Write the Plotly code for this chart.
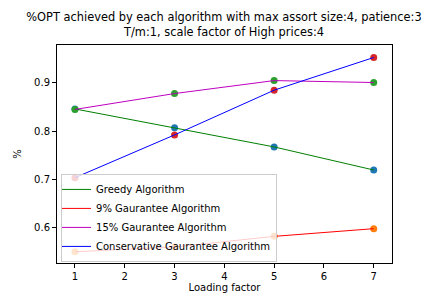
import plotly.graph_objects as go

loading_factor = [1, 3, 5, 7]
greedy = [0.846, 0.807, 0.767, 0.719]
guarantee_9 = [0.549, 0.559, 0.581, 0.597]
guarantee_15 = [0.845, 0.878, 0.905, 0.901]
conservative = [0.703, 0.792, 0.885, 0.953]

series_names = ["Greedy Algorithm", "9% Gaurantee Algorithm",
                "15% Gaurantee Algorithm", "Conservative Gaurantee Algorithm"]
series_values = [greedy, guarantee_9, guarantee_15, conservative]
line_colors = ["#008000", "#ff0000", "#bf00bf", "#0000ff"]
marker_colors = ["#1f77b4", "#ff7f0e", "#2ca02c", "#d62728"]

fig = go.Figure()
for vals, mc in zip(series_values, marker_colors):
    fig.add_trace(go.Scatter(x=loading_factor, y=vals, mode="markers",
                             marker=dict(color=mc, size=7, line=dict(width=0)),
                             showlegend=False, hoverinfo="skip"))
for name, vals, lc in zip(series_names, series_values, line_colors):
    fig.add_trace(go.Scatter(x=loading_factor, y=vals, mode="lines", name=name,
                             line=dict(color=lc, width=1)))

font = "DejaVu Sans"
axis_common = dict(showline=True, mirror=True, linecolor="black", linewidth=1,
                   ticks="outside", ticklen=4, tickwidth=1, tickcolor="black",
                   showgrid=False, zeroline=False, automargin=False,
                   tickfont=dict(family=font, size=10, color="black"))
fig.update_layout(
    width=432, height=293,
    margin=dict(l=49, r=48, t=37, b=38),
    paper_bgcolor="white", plot_bgcolor="white",
    title=dict(text="%OPT achieved by each algorithm with max assort size:4, patience:3<br>T/m:1, scale factor of High prices:4",
               x=0.5, xanchor="center", yref="container", y=0.955, yanchor="middle",
               font=dict(family=font, size=11.4, color="black")),
    xaxis=dict(range=[0.639, 7.367], tickvals=[1, 2, 3, 4, 5, 6, 7],
               title=dict(text="Loading factor", standoff=1,
                          font=dict(family=font, size=10, color="black")),
               **axis_common),
    yaxis=dict(range=[0.5256, 0.979], tickvals=[0.6, 0.7, 0.8, 0.9],
               ticktext=["0.6", "0.7", "0.8", "0.9"],
               title=dict(text="%", standoff=10,
                          font=dict(family=font, size=10, color="black")),
               **axis_common),
    legend=dict(x=0.012, y=0.005, xanchor="left", yanchor="bottom",
                bgcolor="rgba(255,255,255,0.8)", bordercolor="#cccccc", borderwidth=1,
                font=dict(family=font, size=10, color="black"),
                tracegroupgap=0, itemwidth=30, indentation=-6),
)
fig.write_html("out.html")
